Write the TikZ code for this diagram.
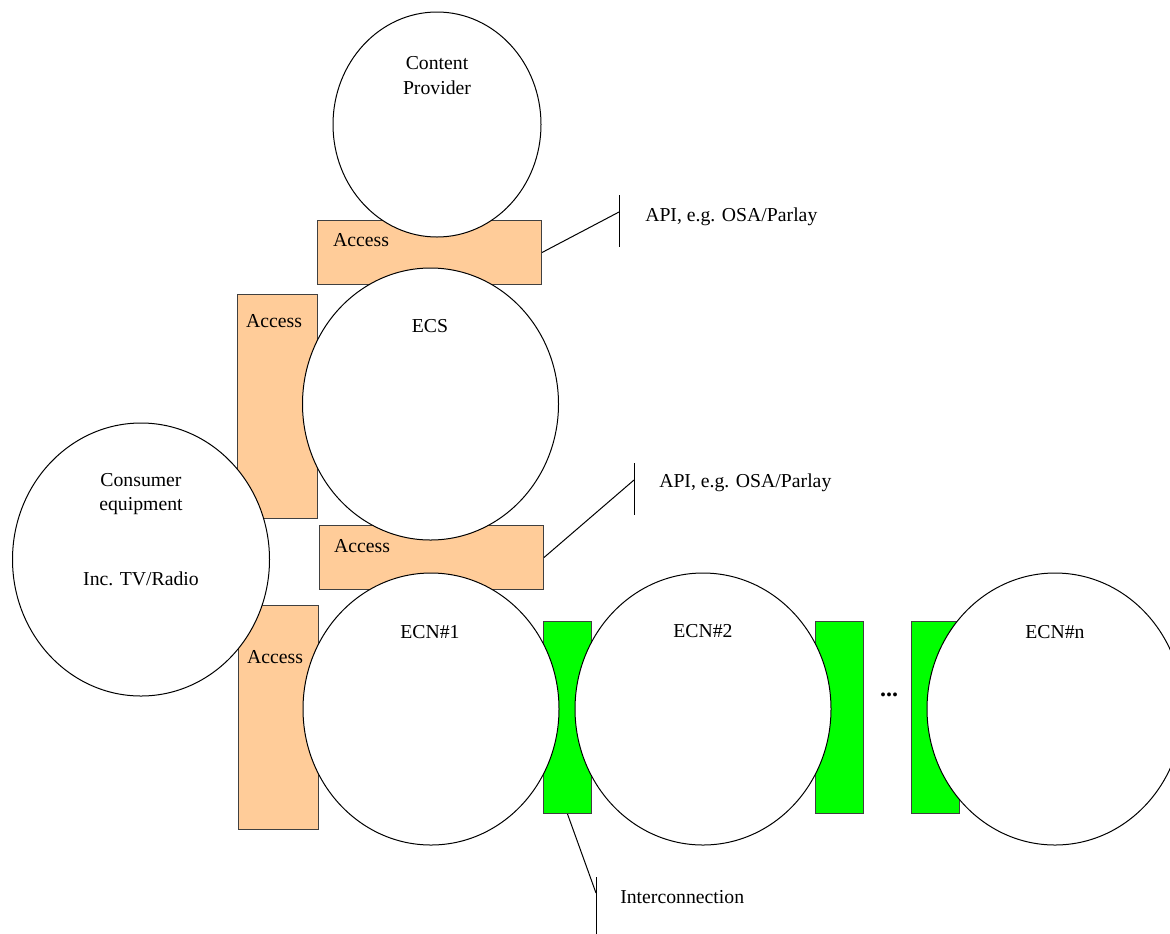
\documentclass[tikz,border=0pt]{standalone}
\usepackage{fontspec}
\setmainfont{Liberation Serif}
\usetikzlibrary{shapes.geometric}
\newlength{\pxu}\setlength{\pxu}{0.75pt}
\definecolor{accessfill}{HTML}{FFCC99}
\definecolor{icfill}{HTML}{00FF00}
\begin{document}
\begin{tikzpicture}[x=0.75pt,y=-0.75pt,
  rectbase/.style={rectangle, draw=black!75, line width=0.75pt, inner sep=0pt, anchor=north west},
  accessH/.style={rectbase, fill=accessfill, minimum width=224\pxu, minimum height=64\pxu},
  accessV/.style={rectbase, fill=accessfill, minimum width=80\pxu, minimum height=224\pxu},
  icbox/.style={rectbase, fill=icfill, minimum width=48\pxu, minimum height=192\pxu},
  netnode/.style={ellipse, draw=black, fill=white, line width=0.75pt, inner sep=0pt,
    minimum width=256\pxu, minimum height=272\pxu},
  lbl/.style={inner sep=0pt, font=\fontsize{14.8}{18.4}\selectfont, align=center},
  leader/.style={draw=black, line width=0.75pt}]

\clip (0,0) rectangle (1170,933);
\fill[white] (0,0) rectangle (1170,933);

% access and interconnection blocks (drawn beneath the networks)
\node[accessH] (acc1) at (317,220) {};
\node[accessV] (accL) at (237,294) {};
\node[accessH] (acc2) at (319,525) {};
\node[accessV] (accB) at (238,605) {};
\node[icbox] (ic1) at (543,621) {};
\node[icbox] (ic2) at (815,621) {};
\node[icbox] (ic3) at (911,621) {};

% networks and parties
\node[netnode, minimum width=208\pxu, minimum height=225\pxu] (cp) at (437,124.5) {};
\node[netnode] (ecs) at (430.5,404) {};
\node[netnode, minimum width=257\pxu, minimum height=273\pxu] (ce) at (141,559.5) {};
\node[netnode] (ecn1) at (431,709) {};
\node[netnode] (ecn2) at (703,709) {};
\node[netnode] (ecnn) at (1055,709) {};

% labels inside the ellipses
\node[lbl] (cpt) at (437,75.5) {Content\\[0.6pt]Provider};
\node[lbl] (ecst) at (430,326) {ECS};
\node[lbl] (cet) at (141,494) {Consumer\\equipment};
\node[lbl] (cet2) at (141,579) {Inc. TV/Radio};
\node[lbl] (ecn1t) at (430,632) {ECN\#1};
\node[lbl] (ecn2t) at (703,631) {ECN\#2};
\node[lbl] (ecnnt) at (1055,632) {ECN\#n};
\node[lbl, font=\fontsize{18}{20}\selectfont\bfseries] (dots) at (889,695) {...};

% access labels
\node[lbl] (acc1t) at (361,240) {Access};
\node[lbl] (accLt) at (274,321) {Access};
\node[lbl] (acc2t) at (362,546) {Access};
\node[lbl] (accBt) at (275,657) {Access};

% API callout, upper
\coordinate (api1) at (619,212);
\coordinate (api1top) at (619,195);
\coordinate (api1bot) at (619,247);
\draw[leader] (acc1.east) -- (api1);
\draw[leader] (api1top) -- (api1bot);
\node[lbl, anchor=west] (api1t) at (645,217) {API, e.g. OSA/Parlay};

% API callout, lower
\coordinate (api2) at (634,480);
\coordinate (api2top) at (634,463);
\coordinate (api2bot) at (634,515);
\draw[leader] (acc2.east) -- (api2);
\draw[leader] (api2top) -- (api2bot);
\node[lbl, anchor=west] (api2t) at (659,483) {API, e.g. OSA/Parlay};

% interconnection callout
\coordinate (icx) at (596,893);
\coordinate (icxtop) at (596,877);
\coordinate (icxbot) at (596,940);
\draw[leader] (ic1.south) -- (icx);
\draw[leader] (icxtop) -- (icxbot);
\node[lbl, anchor=west] (icxt) at (620,897) {Interconnection};

\end{tikzpicture}
\end{document}
